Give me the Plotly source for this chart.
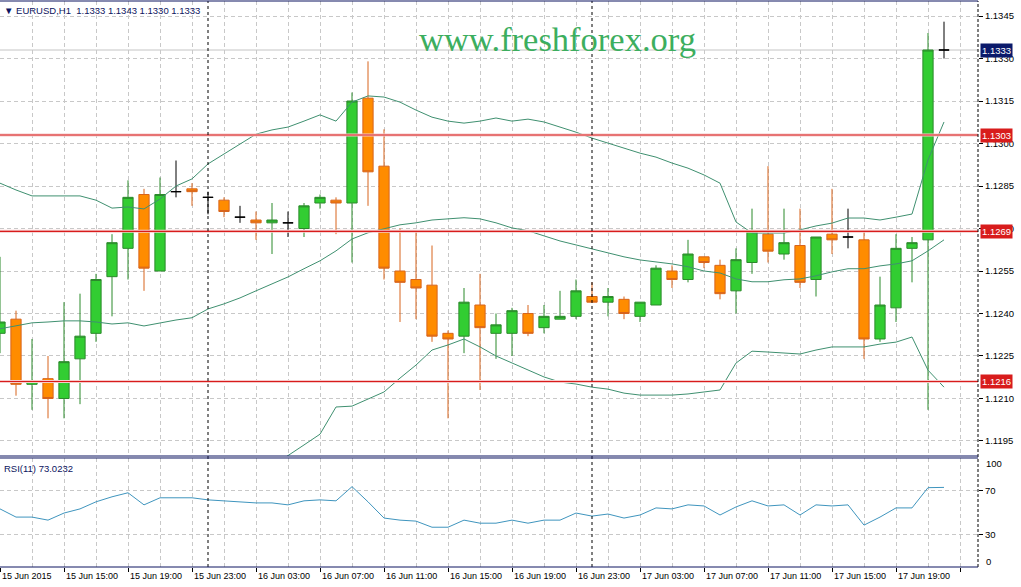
import plotly.graph_objects as go

# ---------------- data (EURUSD H1, bar 0 = 15 Jun 2015 11:00) ----------------
bars = list(range(60))
opens = [1.1233, 1.1238, 1.1215, 1.1217, 1.1210, 1.1224, 1.1233, 1.1253, 1.1263, 1.1282,
         1.1255, 1.1283, 1.1284, 1.1281, 1.1280, 1.1274, 1.1273, 1.1272, 1.1272, 1.1270,
         1.1279, 1.1280, 1.1279, 1.1316, 1.1292, 1.1255, 1.1252, 1.1250, 1.1233, 1.1232,
         1.1243, 1.1233, 1.1233, 1.1240, 1.1235, 1.1238, 1.1239, 1.1246, 1.1244, 1.1245,
         1.1239, 1.1243, 1.1255, 1.1252, 1.1260, 1.1257, 1.1248, 1.1258, 1.1268, 1.1261,
         1.1264, 1.1252, 1.1268, 1.1267, 1.1266, 1.1231, 1.1242, 1.1263, 1.1266, 1.1333]
highs = [1.1260, 1.1241, 1.1231, 1.1225, 1.1244, 1.1247, 1.1254, 1.1268, 1.1287, 1.1284,
         1.1288, 1.1294, 1.1286, 1.1283, 1.1281, 1.1278, 1.1276, 1.1279, 1.1276, 1.1279,
         1.1282, 1.1281, 1.1318, 1.1329, 1.1305, 1.1270, 1.1269, 1.1264, 1.1234, 1.1249,
         1.1254, 1.1240, 1.1242, 1.1243, 1.1243, 1.1248, 1.1252, 1.1251, 1.1249, 1.1246,
         1.1244, 1.1257, 1.1257, 1.1266, 1.1260, 1.1259, 1.1263, 1.1277, 1.1292, 1.1277,
         1.1277, 1.1267, 1.1284, 1.1277, 1.1269, 1.1253, 1.1268, 1.1267, 1.1339, 1.1343]
lows = [1.1226, 1.1211, 1.1206, 1.1203, 1.1203, 1.1208, 1.1230, 1.1239, 1.1252, 1.1248,
        1.1255, 1.1281, 1.1278, 1.1275, 1.1274, 1.1272, 1.1266, 1.1261, 1.1267, 1.1267,
        1.1277, 1.1268, 1.1258, 1.1278, 1.1252, 1.1237, 1.1238, 1.1230, 1.1203, 1.1226,
        1.1213, 1.1224, 1.1225, 1.1232, 1.1233, 1.1238, 1.1238, 1.1244, 1.1239, 1.1238,
        1.1237, 1.1243, 1.1249, 1.1251, 1.1256, 1.1245, 1.1240, 1.1254, 1.1258, 1.1259,
        1.1249, 1.1246, 1.1261, 1.1263, 1.1224, 1.1230, 1.1237, 1.1251, 1.1206, 1.1330]
closes = [1.1237, 1.1215, 1.1216, 1.1210, 1.1223, 1.1232, 1.1252, 1.1265, 1.1281, 1.1256,
          1.1282, 1.1283, 1.1283, 1.1281, 1.1276, 1.1274, 1.1272, 1.1273, 1.1272, 1.1278,
          1.1281, 1.1279, 1.1315, 1.1290, 1.1256, 1.1251, 1.1249, 1.1232, 1.1231, 1.1244,
          1.1235, 1.1236, 1.1241, 1.1233, 1.1239, 1.1239, 1.1248, 1.1244, 1.1246, 1.1240,
          1.1244, 1.1256, 1.1252, 1.1261, 1.1258, 1.1247, 1.1259, 1.1269, 1.1262, 1.1265,
          1.1251, 1.1267, 1.1266, 1.1267, 1.1231, 1.1243, 1.1263, 1.1265, 1.1333, 1.1333]

bb_upper = [1.12860, 1.12836, 1.12815, 1.12815, 1.12815, 1.12815, 1.12800, 1.12772, 1.12776, 1.12769,
            1.12804, 1.12850, 1.12875, 1.12928, 1.12963, 1.12998, 1.13033, 1.13048, 1.13058, 1.13079,
            1.13101, 1.13079, 1.13146, 1.13168, 1.13164, 1.13146, 1.13118, 1.13093, 1.13079, 1.13072,
            1.13079, 1.13090, 1.13079, 1.13086, 1.13076, 1.13058, 1.13040, 1.13019, 1.13002, 1.12984,
            1.12966, 1.12952, 1.12931, 1.12913, 1.12889, 1.12860, 1.12723, 1.12684, 1.12684, 1.12684,
            1.12695, 1.12709, 1.12719, 1.12737, 1.12737, 1.12730, 1.12740, 1.12751, 1.12942, 1.13076]
bb_middle = [1.12346, 1.12356, 1.12367, 1.12370, 1.12374, 1.12374, 1.12370, 1.12363, 1.12367, 1.12356,
             1.12367, 1.12377, 1.12385, 1.12416, 1.12434, 1.12455, 1.12480, 1.12505, 1.12529, 1.12558,
             1.12586, 1.12621, 1.12663, 1.12685, 1.12699, 1.12713, 1.12720, 1.12730, 1.12734, 1.12738,
             1.12734, 1.12720, 1.12702, 1.12692, 1.12674, 1.12656, 1.12642, 1.12628, 1.12614, 1.12600,
             1.12589, 1.12582, 1.12575, 1.12565, 1.12550, 1.12543, 1.12522, 1.12512, 1.12512, 1.12519,
             1.12522, 1.12533, 1.12547, 1.12558, 1.12558, 1.12568, 1.12575, 1.12586, 1.12621, 1.12660]
bb_lower = [1.11731, 1.11777, 1.11819, 1.11826, 1.11833, 1.11833, 1.11840, 1.11854, 1.11858, 1.11844,
            1.11830, 1.11805, 1.11794, 1.11805, 1.11805, 1.11812, 1.11826, 1.11861, 1.11897, 1.11936,
            1.11974, 1.12070, 1.12073, 1.12098, 1.12123, 1.12172, 1.12218, 1.12271, 1.12289, 1.12310,
            1.12282, 1.12250, 1.12225, 1.12200, 1.12176, 1.12158, 1.12151, 1.12140, 1.12133, 1.12119,
            1.12112, 1.12112, 1.12112, 1.12116, 1.12123, 1.12130, 1.12225, 1.12267, 1.12264, 1.12260,
            1.12257, 1.12271, 1.12282, 1.12282, 1.12282, 1.12292, 1.12299, 1.12317, 1.12200, 1.12140]

rsi = [53.3, 45.8, 45.8, 43.0, 49.5, 53.3, 59.8, 64.4, 68.1, 57.0,
       63.5, 63.5, 63.5, 61.6, 60.7, 59.8, 58.8, 58.8, 57.0, 60.7,
       61.6, 60.7, 73.7, 59.8, 44.9, 43.0, 42.1, 36.5, 36.5, 43.0,
       40.2, 40.2, 43.0, 40.2, 43.0, 43.0, 49.5, 46.7, 48.6, 44.9,
       47.7, 54.2, 53.3, 57.0, 56.0, 47.7, 55.1, 60.7, 56.0, 57.0,
       47.7, 57.0, 56.0, 57.0, 38.4, 45.8, 54.2, 54.2, 72.8, 73.0232]

level_prices = [1.1303, 1.1269, 1.1216]
bid_price = 1.1333
day_separator_bars = [13, 37]
price_ticks = [1.1195, 1.1210, 1.1225, 1.1240, 1.1255, 1.1270, 1.1285, 1.1300, 1.1315, 1.1330, 1.1345]
rsi_ticks = [30, 70]
time_tick_bars = [0, 4, 8, 12, 16, 20, 24, 28, 32, 36, 40, 44, 48, 52, 56]
time_tick_labels = ["15 Jun 2015", "15 Jun 15:00", "15 Jun 19:00", "15 Jun 23:00", "16 Jun 03:00",
                    "16 Jun 07:00", "16 Jun 11:00", "16 Jun 15:00", "16 Jun 19:00", "16 Jun 23:00",
                    "17 Jun 03:00", "17 Jun 07:00", "17 Jun 11:00", "17 Jun 15:00", "17 Jun 19:00"]

# ---------------- styling ----------------
FONT = "Liberation Sans"
NAVY = "#0c1460"
GRID = "#c8c8c8"
GRID_DASH = "4px,3px"
BULL_FILL, BULL_LINE = "#32cd32", "#2b8a2b"
BEAR_FILL, BEAR_LINE = "#ff8c00", "#d8641c"
BAND = "#3f9070"
RSI_COL = "#3f95be"
RED = "#d81c1c"

MAIN_DOM = [0.19611, 1.0]
RSI_DOM = [0.0, 0.19258]

is_doji = [o == c for o, c in zip(opens, closes)]
def pick(arr, flag):
    return [v for v, d in zip(arr, is_doji) if d == flag]

fig = go.Figure()

fig.add_trace(go.Candlestick(
    x=pick(bars, False), open=pick(opens, False), high=pick(highs, False),
    low=pick(lows, False), close=pick(closes, False),
    increasing=dict(fillcolor=BULL_FILL, line=dict(color=BULL_LINE, width=1)),
    decreasing=dict(fillcolor=BEAR_FILL, line=dict(color=BEAR_LINE, width=1)),
    whiskerwidth=0, hoverinfo="skip", xaxis="x", yaxis="y"))
fig.add_trace(go.Candlestick(
    x=pick(bars, True), open=pick(opens, True), high=pick(highs, True),
    low=pick(lows, True), close=pick(closes, True),
    increasing=dict(fillcolor="#000000", line=dict(color="#000000", width=1)),
    decreasing=dict(fillcolor="#000000", line=dict(color="#000000", width=1)),
    whiskerwidth=0, hoverinfo="skip", xaxis="x", yaxis="y"))

for band in (bb_upper, bb_middle, bb_lower):
    fig.add_trace(go.Scatter(x=bars, y=band, mode="lines",
                             line=dict(color=BAND, width=1), hoverinfo="skip",
                             xaxis="x", yaxis="y"))

fig.add_trace(go.Scatter(x=bars, y=rsi, mode="lines", line=dict(color=RSI_COL, width=1),
                         hoverinfo="skip", xaxis="x", yaxis="y2"))

shapes = []
shapes.append(dict(type="line", xref="paper", x0=0, x1=1, yref="y", y0=bid_price, y1=bid_price,
                   line=dict(color="#c4c4c4", width=1), layer="below"))
for p in level_prices:
    shapes.append(dict(type="line", xref="paper", x0=0, x1=1, yref="y", y0=p, y1=p,
                       line=dict(color="#f6caca", width=3)))
    shapes.append(dict(type="line", xref="paper", x0=0, x1=1, yref="y", y0=p, y1=p,
                       line=dict(color=RED, width=1.2)))
for b in day_separator_bars:
    shapes.append(dict(type="line", xref="x", x0=b, x1=b, yref="paper", y0=0, y1=1,
                       line=dict(color="#000000", width=1, dash="3px,3px")))
shapes.append(dict(type="line", xref="paper", x0=1, x1=1, yref="paper", y0=0, y1=1,
                   line=dict(color="#000000", width=1, dash="3px,2px")))
for yv in (1.0, MAIN_DOM[0], RSI_DOM[1], 0.0):
    shapes.append(dict(type="line", xref="paper", x0=0, x1=1, yref="paper", y0=yv, y1=yv,
                       line=dict(color=NAVY, width=1)))

annotations = []
annotations.append(dict(xref="paper", yref="paper", x=0, y=1, xanchor="left", yanchor="top",
                        xshift=2, yshift=-2, showarrow=False,
                        text="\u25BC EURUSD,H1\u00a0\u00a01.1333 1.1343 1.1330 1.1333",
                        font=dict(family=FONT, size=9.5, color=NAVY)))
annotations.append(dict(xref="paper", yref="paper", x=0, y=RSI_DOM[1], xanchor="left", yanchor="top",
                        xshift=2, yshift=-3, showarrow=False, text="RSI(11) 73.0232",
                        font=dict(family=FONT, size=9.5, color=NAVY)))
annotations.append(dict(xref="paper", yref="paper", x=0.570, y=0.933, xanchor="center", yanchor="middle",
                        showarrow=False, text="www.freshforex.org",
                        font=dict(family="Liberation Serif", size=34.5, color="#3cae5e")))
for p in level_prices:
    annotations.append(dict(xref="paper", yref="y", x=1, y=p, xanchor="left", yanchor="middle",
                            xshift=2, showarrow=False, text=f"{p:.4f}", bgcolor=RED,
                            borderpad=1, font=dict(family=FONT, size=9.5, color="#ffffff")))
annotations.append(dict(xref="paper", yref="y", x=1, y=bid_price, xanchor="left", yanchor="middle",
                        xshift=2, showarrow=False, text=f"{bid_price:.4f}", bgcolor="#0b1a6b",
                        borderpad=1, font=dict(family=FONT, size=9.5, color="#ffffff")))
for lbl, yv, sh in (("100", 100, -6), ("0", 0, 5)):
    annotations.append(dict(xref="paper", yref="y2", x=1, y=yv, xanchor="left", yanchor="middle",
                            xshift=6, yshift=sh, showarrow=False, text=lbl,
                            font=dict(family=FONT, size=9.5, color="#000000")))
for b, lbl in zip(time_tick_bars, time_tick_labels):
    annotations.append(dict(xref="x", yref="paper", x=b, y=0, xanchor="left", yanchor="top",
                            xshift=0, yshift=-2, showarrow=False, text=lbl,
                            font=dict(family=FONT, size=9, color="#000000")))

fig.update_layout(
    width=1021, height=587,
    margin=dict(l=0, r=43, t=1, b=20, autoexpand=False),
    paper_bgcolor="#ffffff", plot_bgcolor="#ffffff",
    showlegend=False,
    boxgap=0.36, boxgroupgap=0,
    xaxis=dict(domain=[0, 1], range=[0, 61.125], anchor="y2",
               tick0=0, dtick=4, ticks="outside", ticklen=4, tickcolor="#000000",
               showticklabels=False, showgrid=True, gridcolor=GRID, griddash=GRID_DASH, gridwidth=1,
               minor=dict(tick0=0, dtick=2, showgrid=True, gridcolor=GRID, griddash=GRID_DASH, ticks=""),
               zeroline=False, showline=False, rangeslider=dict(visible=False), fixedrange=True,
               automargin=False),
    yaxis=dict(domain=MAIN_DOM, range=[1.11897, 1.13503], side="right", anchor="x",
               tickvals=price_ticks, ticktext=[f"{v:.4f}" for v in price_ticks],
               ticks="outside", ticklen=4, tickcolor="#000000",
               tickfont=dict(family=FONT, size=9.5, color="#000000"), automargin=False,
               showgrid=True, gridcolor=GRID, griddash=GRID_DASH, zeroline=False, showline=False,
               fixedrange=True),
    yaxis2=dict(domain=RSI_DOM, range=[0, 100], side="right", anchor="x",
                tickvals=rsi_ticks, ticktext=[str(v) for v in rsi_ticks],
                ticks="outside", ticklen=4, tickcolor="#000000", automargin=False,
                tickfont=dict(family=FONT, size=9.5, color="#000000"),
                showgrid=True, gridcolor=GRID, griddash=GRID_DASH, zeroline=False, showline=False,
                fixedrange=True),
    shapes=shapes, annotations=annotations,
)

fig.write_html("out.html", config={"displayModeBar": False},
               post_script="document.body.style.margin='0';document.body.style.padding='0';")
